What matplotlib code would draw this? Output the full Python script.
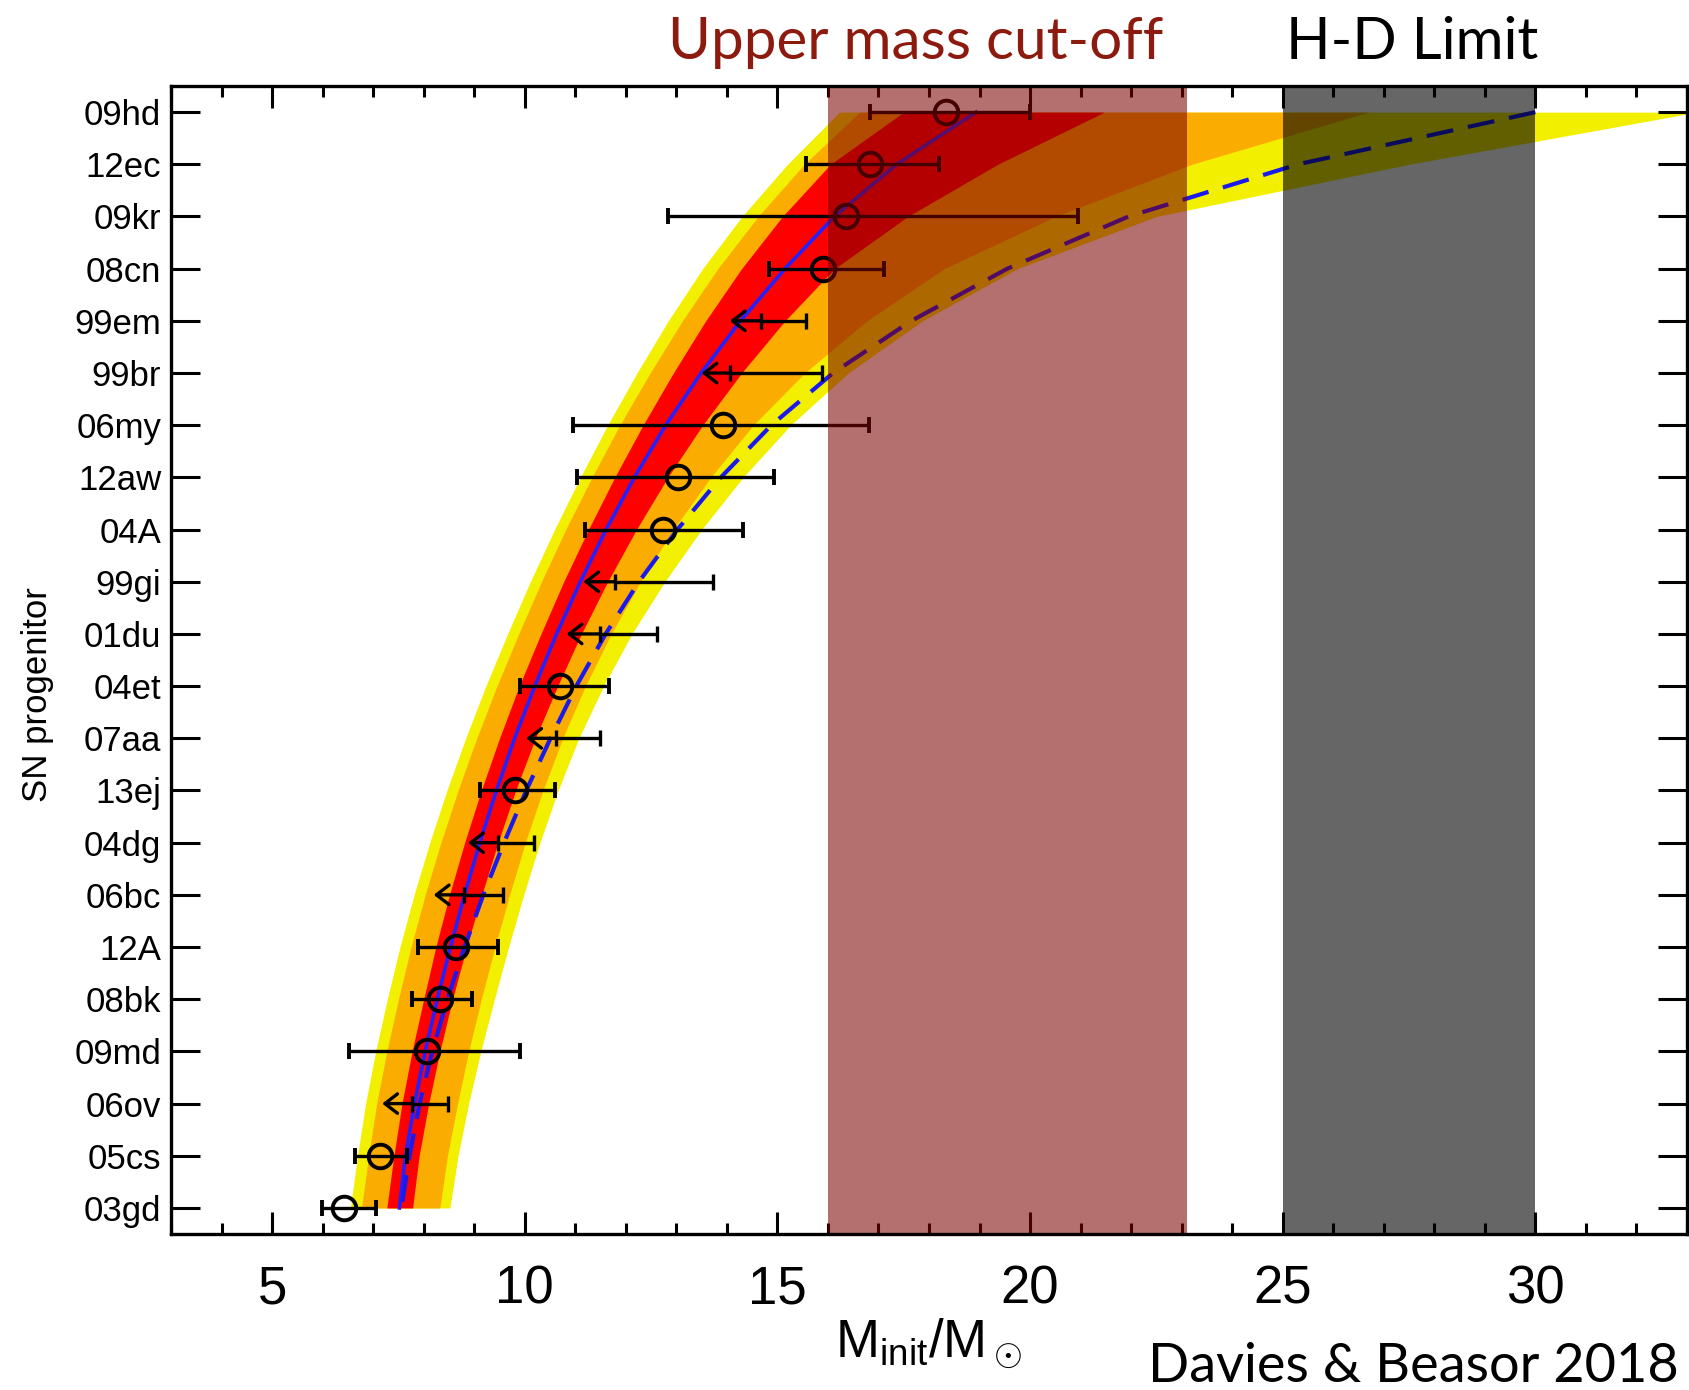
import numpy as np
import matplotlib.pyplot as plt
from matplotlib.ticker import MultipleLocator

plt.rcParams['font.family'] = ['Liberation Sans', 'DejaVu Sans']
plt.rcParams['mathtext.fontset'] = 'custom'
plt.rcParams['mathtext.rm'] = 'Liberation Sans'
plt.rcParams['mathtext.it'] = 'Liberation Sans:italic'

# progenitors, listed top to bottom
names = ['09hd', '12ec', '09kr', '08cn', '99em', '99br', '06my', '12aw', '04A', '99gi', '01du',
         '04et', '07aa', '13ej', '04dg', '06bc', '12A', '08bk', '09md', '06ov', '05cs', '03gd']

# initial mass estimates; for upper limits err_lo is where the arrow ends
mass = [18.33, 16.84, 16.36, 15.90, 14.67, 14.07, 13.93, 13.03, 12.73, 11.79, 11.49,
        10.70, 10.62, 9.81, 9.48, 8.79, 8.63, 8.33, 8.07, 7.77, 7.13, 6.42]
err_lo = [16.83, 15.56, 12.83, 14.84, 14.06, 13.50, 10.95, 11.04, 11.20, 11.16, 10.83,
          9.91, 10.03, 9.11, 8.88, 8.20, 7.88, 7.76, 6.52, 7.18, 6.65, 5.98]
err_hi = [19.99, 18.20, 20.95, 17.10, 15.56, 15.88, 16.81, 14.93, 14.31, 13.72, 12.61,
          11.66, 11.49, 10.60, 10.19, 9.57, 9.48, 8.96, 9.91, 8.49, 7.67, 7.05]
upper_limit = [False, False, False, False, True, True, False, False, False, True, True,
               False, True, False, True, True, False, False, False, True, False, False]

# model distribution of ranked masses (median and 1/2/3 sigma bounds), top to bottom
model_median = [18.93, 17.36, 16.13, 15.15, 14.27, 13.49, 12.79, 12.17, 11.61, 11.10, 10.63,
                10.20, 9.80, 9.44, 9.11, 8.81, 8.53, 8.27, 8.03, 7.82, 7.64, 7.52]
sig1_lo = [17.50, 16.05, 15.10, 14.29, 13.58, 12.94, 12.34, 11.78, 11.26, 10.77, 10.32,
           9.89, 9.50, 9.14, 8.81, 8.51, 8.24, 8.00, 7.77, 7.57, 7.41, 7.27]
sig1_hi = [21.47, 19.36, 17.58, 16.13, 15.15, 14.29, 13.52, 12.83, 12.21, 11.64, 11.12,
           10.65, 10.21, 9.82, 9.47, 9.15, 8.85, 8.57, 8.32, 8.10, 7.91, 7.78]
sig2_lo = [16.63, 15.53, 14.62, 13.82, 13.12, 12.48, 11.88, 11.33, 10.81, 10.33, 9.88,
           9.45, 9.05, 8.68, 8.34, 8.03, 7.75, 7.50, 7.27, 7.07, 6.91, 6.77]
sig2_hi = [26.70, 23.20, 20.50, 18.30, 16.77, 15.54, 14.52, 13.68, 12.94, 12.29, 11.71,
           11.20, 10.75, 10.36, 10.01, 9.70, 9.41, 9.14, 8.89, 8.67, 8.47, 8.32]
sig3_lo = [16.23, 15.20, 14.30, 13.52, 12.84, 12.22, 11.64, 11.10, 10.59, 10.11, 9.66,
           9.23, 8.83, 8.46, 8.12, 7.81, 7.53, 7.28, 7.05, 6.85, 6.69, 6.55]
sig3_hi = [33.20, 27.50, 22.50, 19.75, 17.87, 16.40, 15.26, 14.32, 13.50, 12.77, 12.12,
           11.56, 11.07, 10.66, 10.30, 9.98, 9.68, 9.40, 9.13, 8.89, 8.68, 8.52]
# median for an upper mass limit at the H-D limit
model_hd = [30.00, 25.30, 21.95, 19.55, 17.65, 16.10, 14.88, 13.88, 13.02, 12.26, 11.60,
            11.02, 10.51, 10.03, 9.59, 9.18, 8.81, 8.47, 8.17, 7.92, 7.72, 7.56]

cutoff_range = (16.0, 23.1)
hd_range = (25.0, 30.0)

y = np.arange(len(names))[::-1]

fig = plt.figure(figsize=(16.9, 13.9), dpi=100)
ax = fig.add_axes([0.1012, 0.1122, 0.8970, 0.8259])

ax.fill_betweenx(y, sig3_lo, sig3_hi, color='#f2ef00', lw=0, zorder=1, clip_on=False)
ax.fill_betweenx(y, sig2_lo, sig2_hi, color='#fbac00', lw=0, zorder=1.1)
ax.fill_betweenx(y, sig1_lo, sig1_hi, color='#ff0000', lw=0, zorder=1.2)
ax.plot(model_median, y, color='#2222ff', lw=2.6, zorder=1.5)
ax.plot(model_hd, y, color='#1a1aee', lw=3, dashes=(6.5, 3.6), zorder=1.5)

for yi, m, lo, hi, lim in zip(y, mass, err_lo, err_hi, upper_limit):
    if lim:
        ax.errorbar(m, yi, xerr=[[0], [hi - m]], fmt='none', ecolor='k',
                    elinewidth=2.4, capsize=6, capthick=2.4, zorder=2)
        ax.annotate('', xy=(lo, yi), xytext=(m, yi), zorder=2,
                    arrowprops=dict(arrowstyle='->,head_length=0.45,head_width=0.35',
                                    lw=2.4, color='k', shrinkA=0, shrinkB=0,
                                    mutation_scale=20))
    else:
        ax.errorbar(m, yi, xerr=[[m - lo], [hi - m]], fmt='o', ms=17, mfc='none',
                    mec='k', mew=2.8, ecolor='k', elinewidth=2.4, capsize=6,
                    capthick=2.4, zorder=2)

# shaded mass ranges
ax.axvspan(*cutoff_range, color='#7a0000', alpha=0.565, lw=0, zorder=3)
ax.axvspan(*hd_range, color='k', alpha=0.6, lw=0, zorder=3)

ax.set_xlim(3, 33)
ax.set_ylim(-0.5, 21.5)
ax.set_yticks(y)
ax.set_yticklabels(names)
ax.xaxis.set_major_locator(MultipleLocator(5))
ax.xaxis.set_minor_locator(MultipleLocator(1))

ax.tick_params(axis='x', which='major', direction='in', top=True, length=16, width=2.2,
               labelsize=38, pad=22)
ax.tick_params(axis='x', which='minor', direction='in', top=True, length=8, width=2.2)
ax.tick_params(axis='y', which='major', direction='in', right=True, length=21, width=2.2,
               labelsize=25, pad=7)
for sp in ax.spines.values():
    sp.set_linewidth(2.4)
    sp.set_zorder(4)

ax.set_xlabel(r'M$_{\rm init}$/M$_\odot$', fontsize=38, labelpad=2)
fig.text(38 / 1690, 0.5, 'SN progenitor', rotation=90, fontsize=25, ha='center', va='center')

title_font = dict(family=['Lato', 'DejaVu Sans'], weight='normal')
fig.text(668 / 1690, 1 - 59 / 1390, 'Upper mass cut-off', color='#8c1a0e', fontsize=42,
         va='baseline', **title_font)
fig.text(1286 / 1690, 1 - 59 / 1390, 'H-D Limit', color='k', fontsize=42, va='baseline',
         **title_font)
fig.text(1148 / 1690, 8 / 1390, 'Davies & Beasor 2018', color='k', fontsize=39,
         va='baseline', **title_font)

fig.savefig('out.png', dpi=100)
